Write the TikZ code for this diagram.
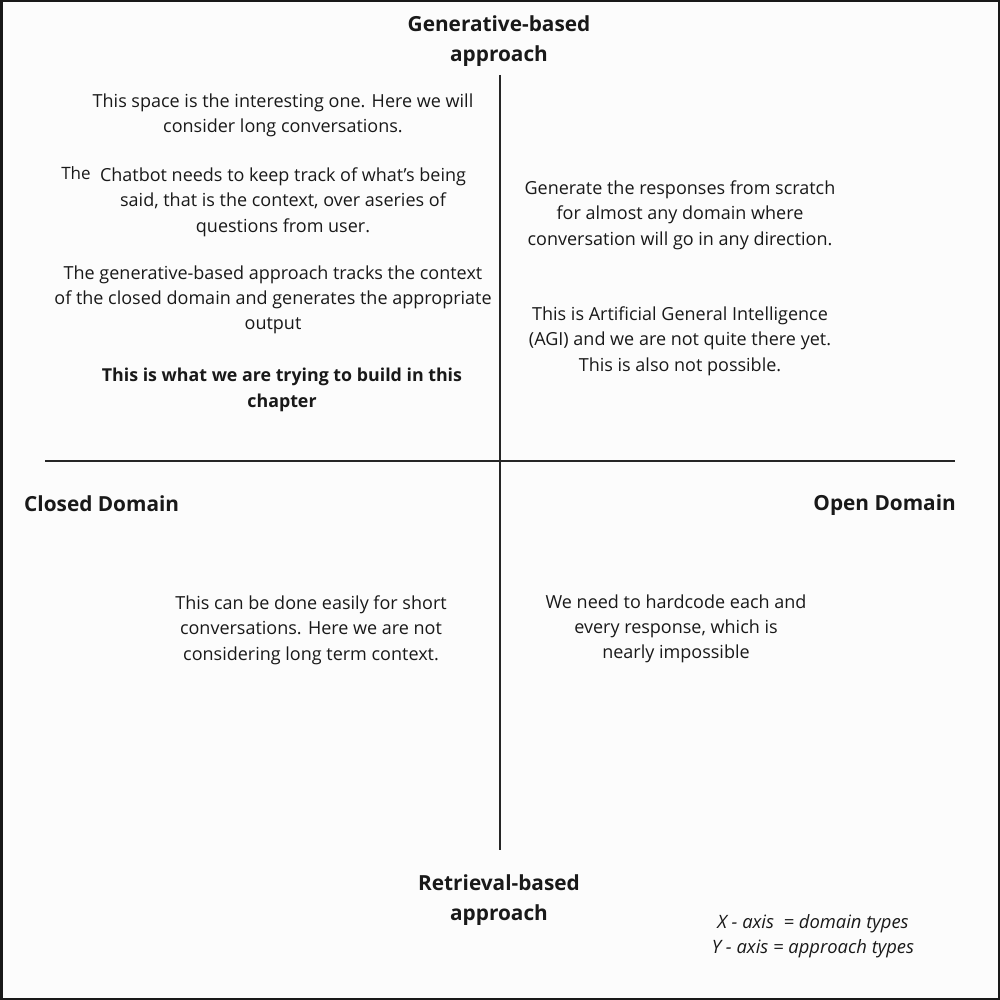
\documentclass[tikz,border=0pt]{standalone}
\usepackage{fontspec}
\setmainfont{Open Sans}
\begin{document}
\begin{tikzpicture}[x=1pt,y=-1pt,
  body/.style={align=center, inner sep=0pt, text=black!90,
    font=\fontsize{18}{25.3}\selectfont},
  strong/.style={body, font=\fontsize{17.8}{25.3}\selectfont\bfseries},
  heading/.style={align=center, inner sep=0pt, text=black!90,
    font=\fontsize{20.8}{29.5}\selectfont\bfseries},
  legend/.style={align=center, inner sep=0pt, text=black!90,
    font=\fontsize{18.4}{25.3}\selectfont\itshape},
  axis/.style={line width=2pt, draw=black!85}]
% page and frame
\fill[black!1] (0,0) rectangle (1000,1000);
\useasboundingbox (0,0) rectangle (1000,1000);
\draw[line width=2.5pt, black!90] (1.25,1.25) rectangle (998.75,998.75);

% axes
\coordinate (xl) at (45,461);
\coordinate (xr) at (955,461);
\coordinate (yt) at (500,75);
\coordinate (yb) at (500,850);
\draw[axis] (xl) -- (xr);
\draw[axis, line width=1.6pt] (yt) -- (yb);

% axis labels
\node[heading] (gen) at (499,41) {Generative-based\\approach};
\node[heading] (ret) at (499,900) {Retrieval-based\\approach};
\node[heading, anchor=west] (closed) at (24,504) {Closed Domain};
\node[heading, anchor=east] (open) at (956,505) {Open Domain};

% closed domain, generative
\node[body] (q1a) at (283,115) {This space is the interesting one. Here we will\\consider long conversations.};
\node[body, font=\fontsize{17}{20}\selectfont] (the) at (76,173) {The};
\node[body] (q1b) at (283,202) {Chatbot needs to keep track of what's being\\said, that is the context, over aseries of\\questions from user.};
\node[body] (q1c) at (273,300) {The generative-based approach tracks the context\\of the closed domain and generates the appropriate\\output};
\node[strong] (q1d) at (282,390) {This is what we are trying to build in this\\chapter};

% open domain, generative
\node[body] (q2a) at (680,215) {Generate the responses from scratch\\for almost any domain where\\conversation will go in any direction.};
\node[body] (q2b) at (680,341) {This is Artificial General Intelligence\\(AGI) and we are not quite there yet.\\This is also not possible.};

% closed domain, retrieval
\node[body] (q3) at (311,630) {This can be done easily for short\\conversations. Here we are not\\considering long term context.};

% open domain, retrieval
\node[body] (q4) at (676,629) {We need to hardcode each and\\every response, which is\\nearly impossible};

% legend
\node[legend] (key) at (813,936) {X - axis\ \ = domain types\\Y - axis = approach types};
\end{tikzpicture}
\end{document}
